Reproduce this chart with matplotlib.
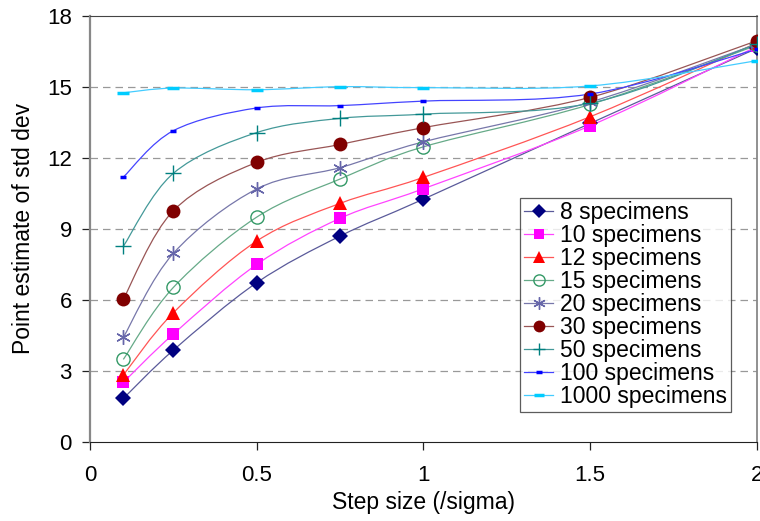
import matplotlib
matplotlib.use('Agg')
import matplotlib.pyplot as plt
from matplotlib.path import Path
from matplotlib.patches import PathPatch
from matplotlib.lines import Line2D

plt.rcParams['font.family'] = ['Liberation Sans', 'DejaVu Sans']

step = [0.1, 0.25, 0.5, 0.75, 1.0, 1.5, 2.0]

labels = ['8 specimens', '10 specimens', '12 specimens', '15 specimens', '20 specimens',
          '30 specimens', '50 specimens', '100 specimens', '1000 specimens']

s8 = [1.83, 3.87, 6.72, 8.69, 10.25, 13.45, 16.62]
s10 = [2.51, 4.55, 7.49, 9.44, 10.69, 13.35, 16.70]
s12 = [2.82, 5.45, 8.48, 10.07, 11.17, 13.73, 16.85]
s15 = [3.48, 6.52, 9.49, 11.10, 12.46, 14.25, 16.75]
s20 = [4.41, 7.96, 10.68, 11.58, 12.67, 14.35, 16.80]
s30 = [6.03, 9.76, 11.80, 12.56, 13.27, 14.55, 16.94]
s50 = [8.26, 11.34, 13.06, 13.66, 13.84, 14.30, 16.80]
s100 = [11.18, 13.14, 14.10, 14.20, 14.39, 14.69, 16.58]
s1000 = [14.74, 14.94, 14.87, 15.00, 14.96, 15.03, 16.10]

series = [s8, s10, s12, s15, s20, s30, s50, s100, s1000]

# marker colour, line colour, marker, size, filled
styles = [
    ('#000080', '#5a5a9a', 'D', 8, True),
    ('#ff00ff', '#ff44ff', 's', 8.5, True),
    ('#ff0000', '#ff5555', '^', 9.5, True),
    ('#339966', '#66aa88', 'o', 9.5, False),
    ('#6666aa', '#7777aa', (6, 2, 0), 10.5, False),
    ('#800000', '#995555', 'o', 10, True),
    ('#008080', '#449999', '+', 11, False),
    ('#0000ff', '#4444ff', '_', 5, False),
    ('#00ccff', '#44ccff', '_', 8, False),
]


def smooth_path(xs, ys):
    # excel style smoothed line: cubic bezier through the points
    pts = list(zip(xs, ys))
    verts = [pts[0]]
    codes = [Path.MOVETO]
    n = len(pts)
    for i in range(n - 1):
        p0 = pts[i - 1] if i > 0 else pts[i]
        p1 = pts[i]
        p2 = pts[i + 1]
        p3 = pts[i + 2] if i + 2 < n else pts[i + 1]
        c1 = (p1[0] + (p2[0] - p0[0]) / 6, p1[1] + (p2[1] - p0[1]) / 6)
        c2 = (p2[0] - (p3[0] - p1[0]) / 6, p2[1] - (p3[1] - p1[1]) / 6)
        verts += [c1, c2, p2]
        codes += [Path.CURVE4] * 3
    return Path(verts, codes)


fig = plt.figure(figsize=(7.6, 5.21), dpi=100)
ax = fig.add_axes([0.1184, 0.152, 0.8776, 0.818])

for y in [3, 6, 9, 12, 15]:
    ax.axhline(y, color='#999999', lw=0.9, ls=(0, (6, 4)), zorder=0)

handles = []
for vals, lab, (mc, lc, mk, ms, filled) in zip(series, labels, styles):
    ax.add_patch(PathPatch(smooth_path(step, vals), fill=False, edgecolor=lc, lw=0.9, zorder=2))
    kw = dict(marker=mk, markersize=ms, color=mc, linestyle='none')
    if mk == 'o' and not filled:
        kw.update(markerfacecolor='none', markeredgewidth=1.0)
    elif mk == '_':
        kw.update(markeredgewidth=2.5)
    elif not filled:
        kw.update(markeredgewidth=1.0)
    else:
        kw.update(markeredgewidth=0)
    ax.plot(step, vals, zorder=3, **kw)
    hk = dict(kw)
    hk['linestyle'] = '-'
    hk['color'] = lc
    hk['markeredgecolor'] = mc
    if filled:
        hk['markerfacecolor'] = mc
    hk['markersize'] = ms * 0.85
    handles.append(Line2D([], [], lw=0.9, label=lab, **hk))

ax.set_xlim(0, 2)
ax.set_ylim(0, 18)
ax.set_xticks([0, 0.5, 1, 1.5, 2])
ax.set_xticklabels(['0', '0.5', '1', '1.5', '2'])
ax.set_yticks([0, 3, 6, 9, 12, 15, 18])
ax.tick_params(labelsize=16, direction='out', length=6, width=0.9, colors='#222222',
               labelcolor='black')
ax.tick_params(axis='y', pad=7)
ax.tick_params(axis='x', pad=11)

ax.spines['left'].set_color('#888888')
ax.spines['left'].set_linewidth(1.6)
ax.spines['bottom'].set_color('#222222')
ax.spines['top'].set_color('#444444')
ax.spines['right'].set_color('#888888')
ax.spines['right'].set_linewidth(1.3)

ax.set_xlabel('Step size (/sigma)', fontsize=16.5, labelpad=3)
ax.set_ylabel('Point estimate of std dev', fontsize=16.5, labelpad=9)

leg = ax.legend(handles=handles, loc='upper left', bbox_to_anchor=(0.645, 0.572),
                fontsize=16.5, frameon=True, fancybox=False, labelspacing=0.0,
                handlelength=1.3, handletextpad=0.3, borderpad=0.15, borderaxespad=0)
leg.get_frame().set_edgecolor('#333333')
leg.get_frame().set_linewidth(0.9)

fig.savefig('out.png', dpi=100)
